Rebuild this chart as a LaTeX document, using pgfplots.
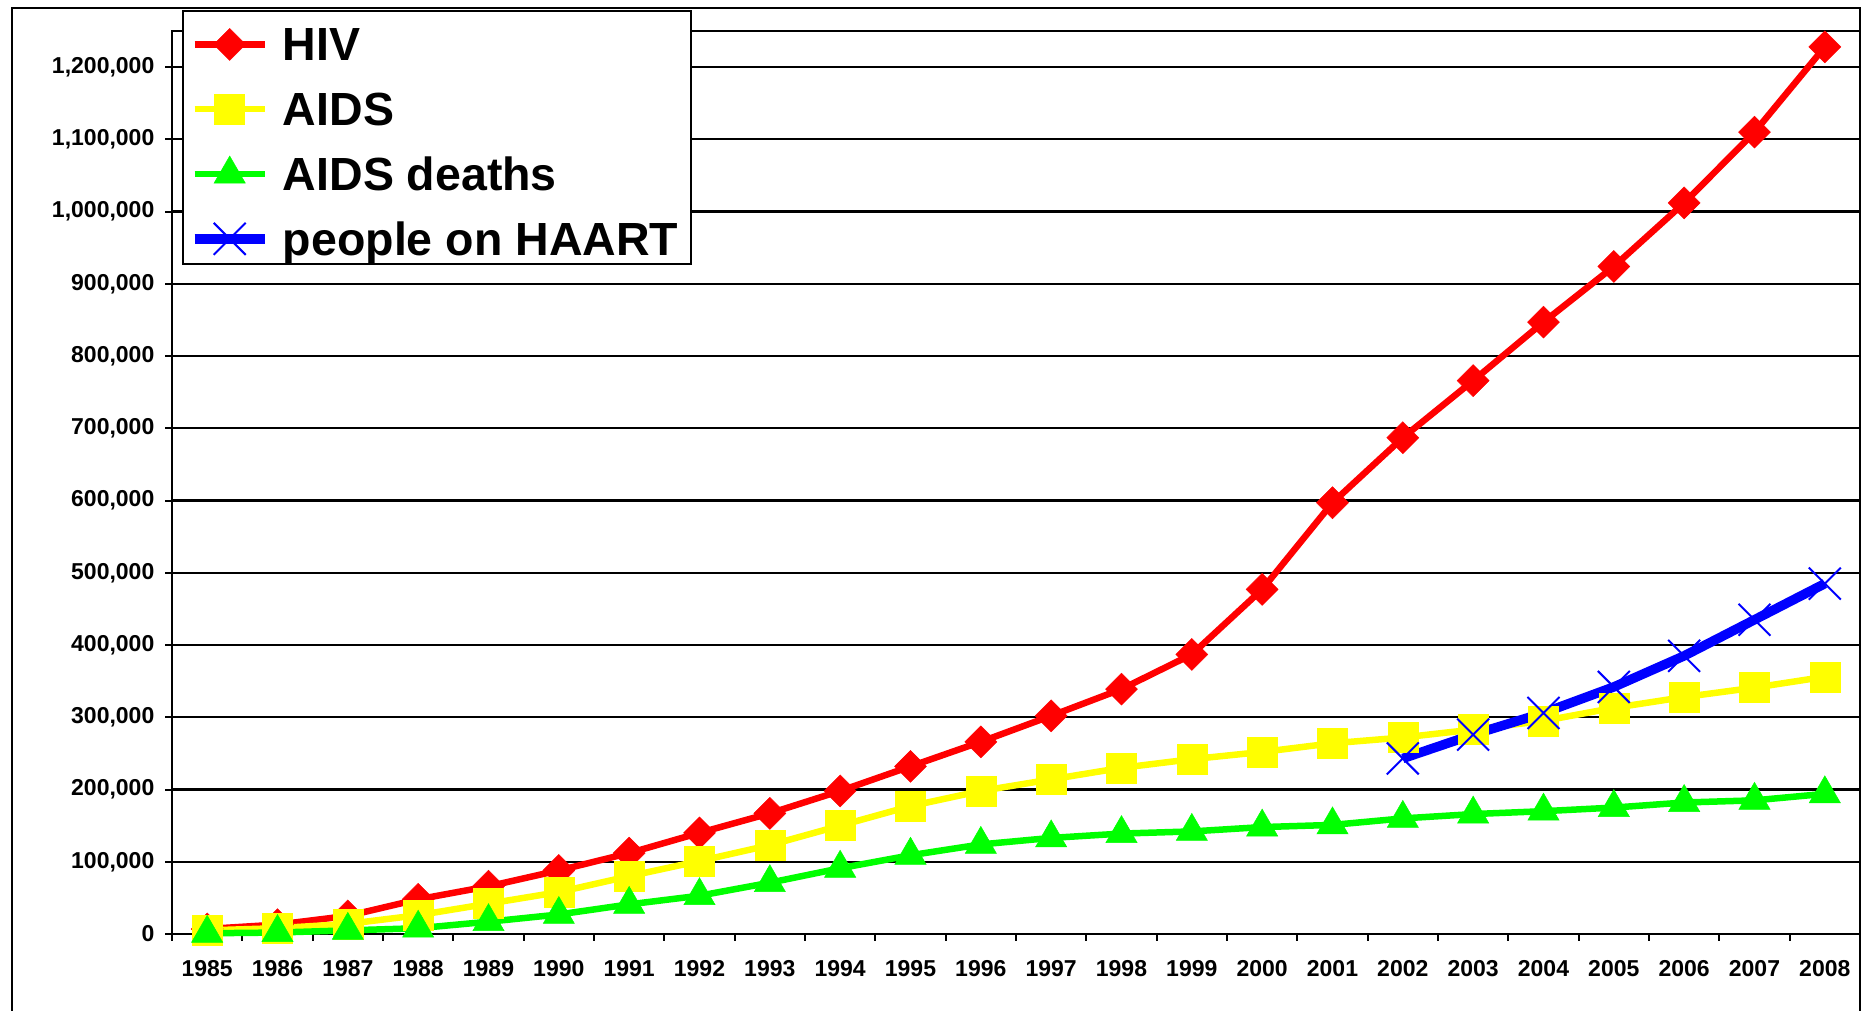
\documentclass[border=0pt]{standalone}
\usepackage{pgfplots}
\pgfplotsset{compat=1.18}
\usepackage{fontspec}
\setmainfont{Liberation Sans}
\definecolor{cred}{RGB}{255,0,0}
\definecolor{cyel}{RGB}{255,255,0}
\definecolor{cgrn}{RGB}{0,255,0}
\definecolor{cblu}{RGB}{0,0,255}
\begin{document}
\begin{tikzpicture}
\useasboundingbox (0,0) rectangle (1870pt,1011pt);
\fill[white] (0,0) rectangle (1870pt,1011pt);
\draw[line width=2pt] (12pt,0pt) -- (12pt,1003pt) -- (1860pt,1003pt) -- (1860pt,0pt);
\begin{axis}[
  at={(172pt,77pt)}, anchor=south west,
  scale only axis, width=1688pt, height=903pt,
  xmin=1984.5, xmax=2008.5, ymin=0, ymax=1250000,
  xtick={1984.5,1985.5,1986.5,1987.5,1988.5,1989.5,1990.5,1991.5,1992.5,1993.5,1994.5,1995.5,1996.5,1997.5,1998.5,1999.5,2000.5,2001.5,2002.5,2003.5,2004.5,2005.5,2006.5,2007.5,2008.5},
  x tick label as interval,
  xticklabels={1985,1986,1987,1988,1989,1990,1991,1992,1993,1994,1995,1996,1997,1998,1999,2000,2001,2002,2003,2004,2005,2006,2007,2008},
  ytick={0,100000,200000,300000,400000,500000,600000,700000,800000,900000,1000000,1100000,1200000},
  scaled y ticks=false,
  yticklabel style={xshift=-10.5pt, /pgf/number format/.cd, fixed, precision=0, 1000 sep={,}},
  xticklabel style={yshift=-19pt},
  ymajorgrids, major grid style={black, line width=2.2pt},
  tick align=outside, tick pos=left, major tick length=7pt,
  every tick/.style={black, line width=2pt},
  axis line style={line width=2.5pt},
  ticklabel style={font=\fontsize{23}{23}\selectfont\bfseries, inner sep=0pt},
  /pgf/number format/assume math mode=true,
  clip=false,
  legend cell align=left,
  legend style={at={(0.0062,1.0233)}, anchor=north west, draw=black, line width=2pt, fill=white,
    inner xsep=6.5pt, inner ysep=2pt, row sep=10pt, column sep=7.5pt,
    font=\fontsize{46.5}{46.5}\selectfont\bfseries,
    nodes={inner ysep=0pt, inner xsep=6pt, text height=48pt, text depth=6.8pt},
    cells={anchor=base west}},
  legend image code/.code={\draw[#1, mark repeat=2, mark phase=2] plot coordinates {(0pt,16.5pt) (35pt,16.5pt) (70pt,16.5pt)};},
]
\addplot[cred, line width=6.5pt, mark=square*, mark size=11.3pt, mark options={rotate=45, solid, fill=cred, draw=cred, line width=0.5pt}] coordinates {
(1985,7000) (1986,13000) (1987,25000) (1988,48000) (1989,66000) (1990,88000) (1991,112000) (1992,140000) (1993,167000) (1994,198000) (1995,232000) (1996,266000) (1997,302000) (1998,339000) (1999,387000) (2000,477000) (2001,597000) (2002,687000) (2003,766000) (2004,847000) (2005,924000) (2006,1012000) (2007,1110000) (2008,1228000)};
\addlegendentry{HIV}
\addplot[cyel, line width=6.5pt, mark=square*, mark size=15pt, mark options={solid, fill=cyel, draw=cyel, line width=0.5pt}] coordinates {
(1985,5000) (1986,8000) (1987,14000) (1988,26000) (1989,42000) (1990,58000) (1991,80000) (1992,101000) (1993,123000) (1994,150000) (1995,177000) (1996,198000) (1997,214000) (1998,230000) (1999,242000) (2000,252000) (2001,264000) (2002,272000) (2003,283000) (2004,295000) (2005,313000) (2006,328000) (2007,341000) (2008,356000)};
\addlegendentry{AIDS}
\addplot[cgrn, line width=6.5pt, mark=triangle*, mark size=18pt, mark options={solid, fill=cgrn, draw=cgrn, line width=0.5pt}] coordinates {
(1985,1000) (1986,2000) (1987,5000) (1988,8000) (1989,17000) (1990,27000) (1991,41000) (1992,53000) (1993,71000) (1994,91000) (1995,109000) (1996,124000) (1997,133000) (1998,139000) (1999,142000) (2000,148000) (2001,151000) (2002,160000) (2003,166000) (2004,170000) (2005,175000) (2006,182000) (2007,185000) (2008,194000)};
\addlegendentry{AIDS deaths}
\addplot[cblu, line width=9.5pt, mark=x, mark size=22.6pt, mark options={solid, draw=cblu, line width=2pt}] coordinates {
(2002,243000) (2003,276000) (2004,306000) (2005,342000) (2006,385000) (2007,435000) (2008,485000)};
\addlegendentry{people on HAART}
\end{axis}
\end{tikzpicture}
\end{document}
